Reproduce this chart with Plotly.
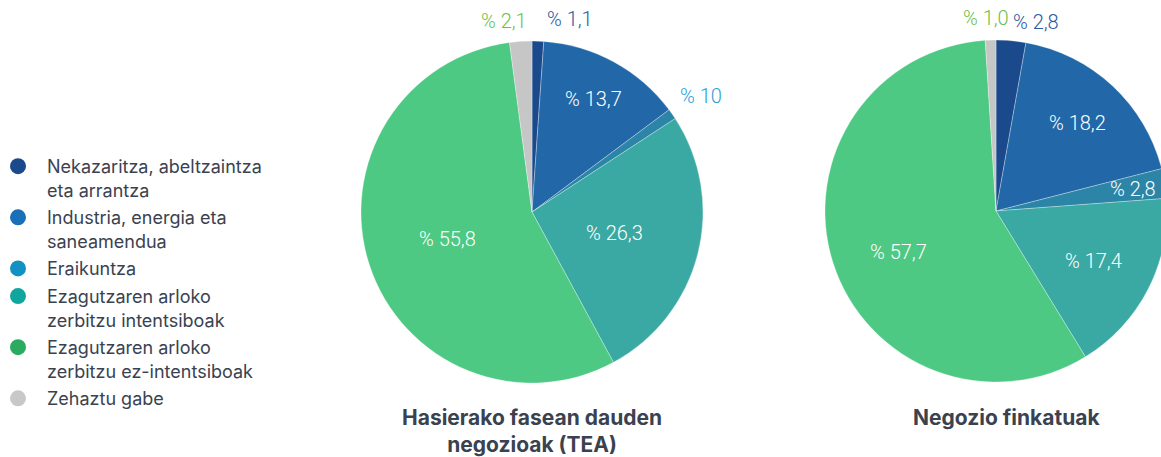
import math
import plotly.graph_objects as go

categories = [
    "Nekazaritza, abeltzaintza<br>eta arrantza",
    "Industria, energia eta<br>saneamendua",
    "Eraikuntza",
    "Ezagutzaren arloko<br>zerbitzu intentsiboak",
    "Ezagutzaren arloko<br>zerbitzu ez-intentsiboak",
    "Zehaztu gabe",
]
tea_values = [1.1, 13.7, 1.0, 26.3, 55.8, 2.1]
tea_labels = ["% 1,1", "% 13,7", "% 10", "% 26,3", "% 55,8", "% 2,1"]
fin_values = [2.8, 18.2, 2.8, 17.4, 57.7, 1.0]
fin_labels = ["% 2,8", "% 18,2", "% 2,8", "% 17,4", "% 57,7", "% 1,0"]
titles = ["<b>Hasierako fasean dauden<br>negozioak (TEA)</b>", "<b>Negozio finkatuak</b>"]

slice_colors = ["#1b4a8c", "#2268a8", "#2c84a6", "#3aa9a3", "#4dc983", "#c6c6c6"]
legend_colors = ["#1a4a8c", "#1a70b8", "#1391c2", "#10a59d", "#2bab5f", "#c8c8c8"]

W, H = 1169, 457   # a little wider than the 1161 window: the right pie is cut by the edge
OFF = 0
FONT = "Roboto"
LFONT = "Inter"
TXT = "#3a4250"

# pie geometry (page pixels)
pies = [
    dict(cx=532, cy=212, r=171, values=tea_values, labels=tea_labels, title=titles[0], tdx=0),
    dict(cx=996, cy=211, r=171, values=fin_values, labels=fin_labels, title=titles[1], tdx=10),
]
# label style per slice: (radius fraction, color, xanchor, xshift, yshift)
label_styles = [
    [(1.13, "#2a5aa0", "left", 6, 0), (0.75, "white", "center", 0, 0), (1.18, "#2a9fd5", "center", 4, 0),
     (0.5, "white", "center", 0, 0), (0.52, "white", "center", 0, 0), (1.12, "#6cbf4a", "right", 10, 0)],
    [(1.11, "#2a5aa0", "left", -2, 0), (0.70, "white", "center", 0, 0), (0.81, "white", "center", 0, 0),
     (0.64, "white", "center", 0, 0), (0.6, "white", "center", 0, -10), (1.13, "#6cbf4a", "right", 21, 0)],
]


def fx(px):
    return (px - OFF) / W


def fy(py):
    return (H - (py - OFF)) / H


fig = go.Figure()
annotations = []
for i, p in enumerate(pies):
    fig.add_trace(go.Pie(
        labels=categories, values=p["values"], sort=False, direction="clockwise",
        rotation=0, textinfo="none", hoverinfo="label+percent", showlegend=False,
        marker=dict(colors=slice_colors, line=dict(color="rgba(255,255,255,0.5)", width=0.6)),
        domain=dict(x=[fx(p["cx"] - p["r"]), fx(p["cx"] + p["r"])],
                    y=[fy(p["cy"] + p["r"]), fy(p["cy"] - p["r"])]),
    ))
    total = sum(p["values"])
    cum = 0.0
    for v, lab, st in zip(p["values"], p["labels"], label_styles[i]):
        mid = (cum + v / 2) / total * 2 * math.pi
        cum += v
        rf, col, xa, xs, ys = st
        px = p["cx"] + rf * p["r"] * math.sin(mid)
        py = p["cy"] - rf * p["r"] * math.cos(mid)
        annotations.append(dict(
            x=fx(px), y=fy(py), xref="paper", yref="paper", text=lab,
            showarrow=False, xanchor=xa, yanchor="middle", xshift=xs, yshift=ys,
            font=dict(family=FONT, size=20, color=col, weight=300),
        ))
    annotations.append(dict(
        x=fx(p["cx"] + p["tdx"]), y=fy(403), xref="paper", yref="paper",
        text=p["title"], showarrow=False, xanchor="center", yanchor="top",
        font=dict(family=LFONT, size=21, color=TXT),
    ))

for cat, col in zip(categories, legend_colors):
    fig.add_trace(go.Scatter(
        x=[None], y=[None], mode="markers", name=cat, legendgroup=cat,
        marker=dict(color=col, size=16, symbol="circle"), showlegend=True,
    ))

fig.update_layout(
    width=W, height=H, margin=dict(l=0, r=0, t=0, b=0, autoexpand=False),
    paper_bgcolor="white", plot_bgcolor="white",
    xaxis=dict(visible=False, domain=[0, 0.01]), yaxis=dict(visible=False, domain=[0, 0.01]),
    showlegend=True,
    legend=dict(x=fx(-11), y=fy(148), xanchor="left", yanchor="top", valign="top",
                itemwidth=48, tracegroupgap=1.3, font=dict(family=LFONT, size=18, color=TXT),
                bgcolor="rgba(0,0,0,0)", itemclick=False, itemdoubleclick=False),
    annotations=annotations,
)
fig.write_html(
    "out.html", default_width=f"{W}px", default_height=f"{H}px",
    config={"displayModeBar": False},
    post_script="document.body.style.margin='0';document.body.style.overflow='hidden';",
)
